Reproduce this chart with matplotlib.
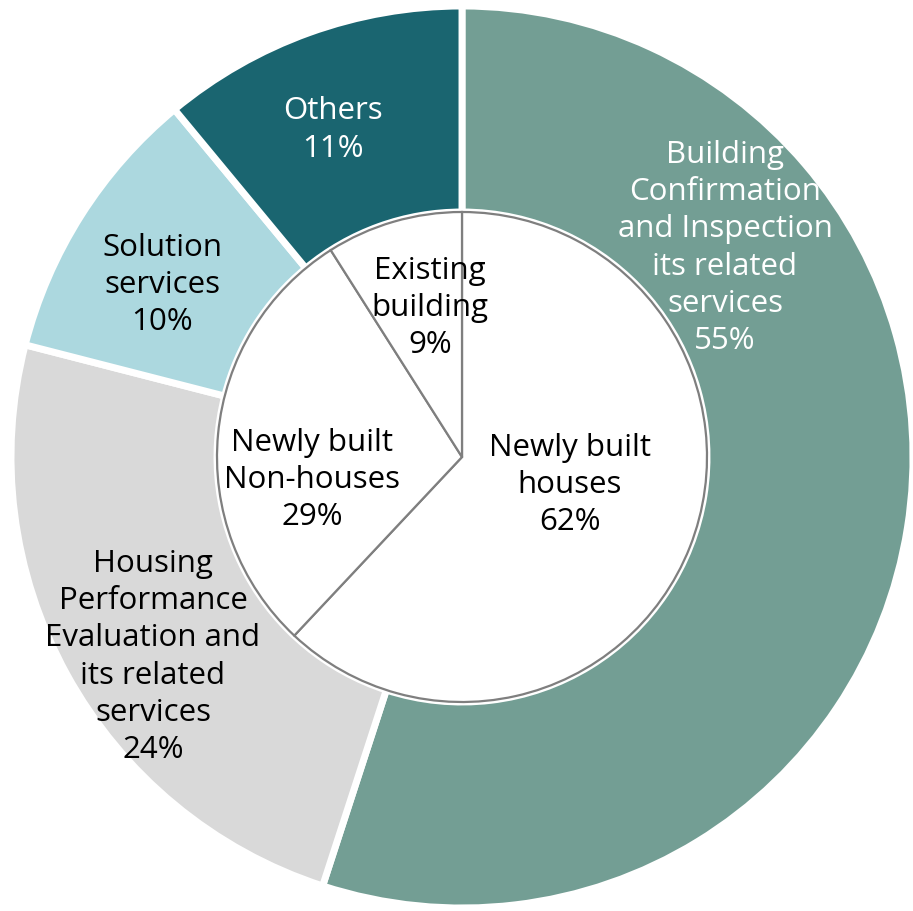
import matplotlib.pyplot as plt

plt.rcParams['font.family'] = ['Open Sans', 'DejaVu Sans']

# outer ring: business segments
outer_labels = ['Building\nConfirmation\nand Inspection\nits related\nservices\n55%',
                'Housing\nPerformance\nEvaluation and\nits related\nservices\n24%',
                'Solution\nservices\n10%',
                'Others\n11%']
outer_values = [55, 24, 10, 11]
outer_colors = ['#739e94', '#d9d9d9', '#acd8df', '#1a6570']
outer_text = ['white', 'black', 'black', 'white']

# inner pie: building types
inner_labels = ['Newly built\nhouses\n62%', 'Newly built\nNon-houses\n29%', 'Existing\nbuilding\n9%']
inner_values = [62, 29, 9]

W, H = 913, 912
CX, CY, R = 462, 458, 451.0
R_IN = 245.0


def px(x, y):
    # pixel (from top-left) -> data coords
    return (x - CX) / R, (CY - y) / R


fig = plt.figure(figsize=(W / 100, H / 100), dpi=100)
ax = fig.add_axes([0, 0, 1, 1])

ax.pie(outer_values, colors=outer_colors, startangle=90, counterclock=False,
       radius=1.0, wedgeprops=dict(width=1 - R_IN / R, edgecolor='white', linewidth=5))
ax.pie(inner_values, colors=['white'] * 3, startangle=90, counterclock=False,
       radius=R_IN / R, wedgeprops=dict(edgecolor='#7f7f7f', linewidth=1.6))

fs = 22.5
ls = 1.32
outer_pos = [(725, 248), (153, 657), (162, 285), (333, 130)]
for lab, (x, y), c in zip(outer_labels, outer_pos, outer_text):
    ax.text(*px(x, y), lab, ha='center', va='center', color=c, fontsize=fs, linespacing=ls)

inner_pos = [(570, 485), (312, 480), (430, 308)]
for lab, (x, y) in zip(inner_labels, inner_pos):
    ax.text(*px(x, y), lab, ha='center', va='center', color='black', fontsize=fs, linespacing=ls)

ax.set_xlim(-CX / R, (W - CX) / R)
ax.set_ylim(-(H - CY) / R, CY / R)
ax.set_aspect('auto')
ax.axis('off')

plt.savefig('out.png', dpi=100)
